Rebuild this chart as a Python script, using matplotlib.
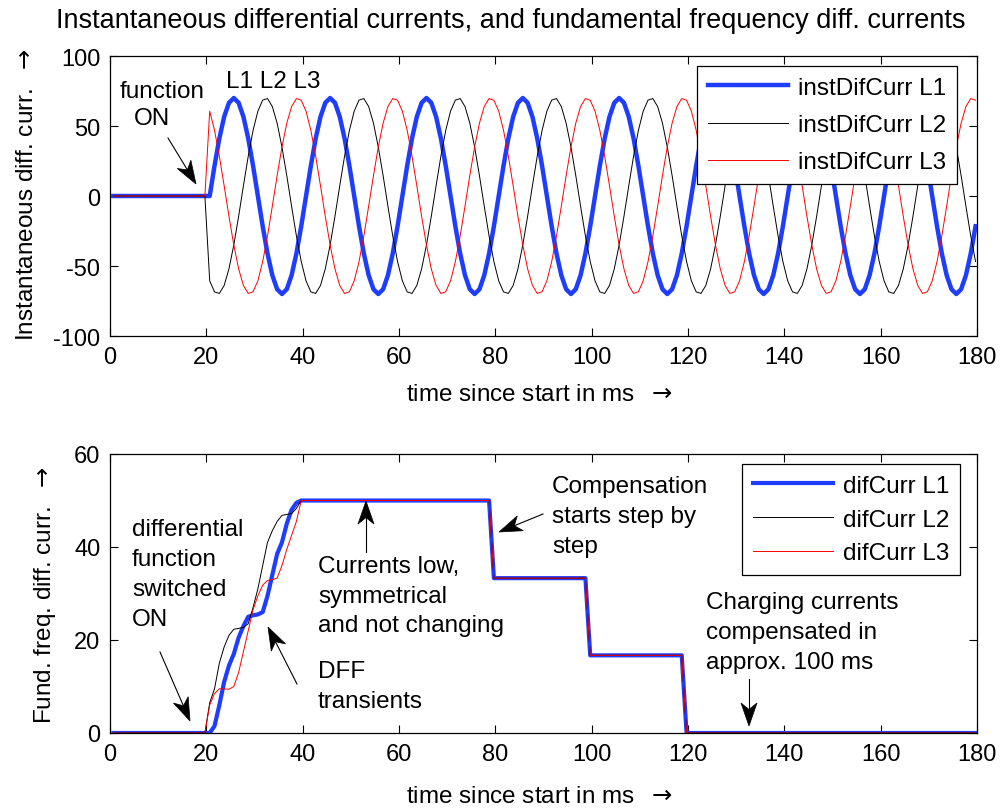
import numpy as np
import matplotlib
matplotlib.use("Agg")
import matplotlib.pyplot as plt
from matplotlib.lines import Line2D
from matplotlib.patches import Polygon

plt.rcParams['font.family'] = ['Liberation Sans', 'DejaVu Sans']
plt.rcParams['axes.unicode_minus'] = False
plt.rcParams['mathtext.fontset'] = 'dejavusans'

W, H = 1003, 812

# ---------------- data ----------------
time_ms = np.arange(180) + 0.7          # sample instants [ms]

inst_L1 = [0] * 20 + [
    0, 21.6, 41.1, 56.6, 66.6, 70, 66.6, 56.6, 41.1, 21.6, 0, -21.6, -41.1, -56.6, -66.6, -70, -66.6, -56.6, -41.1, -21.6,
    0, 21.6, 41.1, 56.6, 66.6, 70, 66.6, 56.6, 41.1, 21.6, 0, -21.6, -41.1, -56.6, -66.6, -70, -66.6, -56.6, -41.1, -21.6,
    0, 21.6, 41.1, 56.6, 66.6, 70, 66.6, 56.6, 41.1, 21.6, 0, -21.6, -41.1, -56.6, -66.6, -70, -66.6, -56.6, -41.1, -21.6,
    0, 21.6, 41.1, 56.6, 66.6, 70, 66.6, 56.6, 41.1, 21.6, 0, -21.6, -41.1, -56.6, -66.6, -70, -66.6, -56.6, -41.1, -21.6,
    0, 21.6, 41.1, 56.6, 66.6, 70, 66.6, 56.6, 41.1, 21.6, 0, -21.6, -41.1, -56.6, -66.6, -70, -66.6, -56.6, -41.1, -21.6,
    0, 21.6, 41.1, 56.6, 66.6, 70, 66.6, 56.6, 41.1, 21.6, 0, -21.6, -41.1, -56.6, -66.6, -70, -66.6, -56.6, -41.1, -21.6,
    0, 21.6, 41.1, 56.6, 66.6, 70, 66.6, 56.6, 41.1, 21.6, 0, -21.6, -41.1, -56.6, -66.6, -70, -66.6, -56.6, -41.1, -21.6,
    0, 21.6, 41.1, 56.6, 66.6, 70, 66.6, 56.6, 41.1, 21.6, 0, -21.6, -41.1, -56.6, -66.6, -70, -66.6, -56.6, -41.1, -21.6,
]
inst_L2 = [0] * 20 + [
    -60.6, -68.5, -69.6, -63.9, -52, -35, -14.6, 7.3, 28.5, 46.8, 60.6, 68.5, 69.6, 63.9, 52, 35, 14.6, -7.3, -28.5, -46.8,
    -60.6, -68.5, -69.6, -63.9, -52, -35, -14.6, 7.3, 28.5, 46.8, 60.6, 68.5, 69.6, 63.9, 52, 35, 14.6, -7.3, -28.5, -46.8,
    -60.6, -68.5, -69.6, -63.9, -52, -35, -14.6, 7.3, 28.5, 46.8, 60.6, 68.5, 69.6, 63.9, 52, 35, 14.6, -7.3, -28.5, -46.8,
    -60.6, -68.5, -69.6, -63.9, -52, -35, -14.6, 7.3, 28.5, 46.8, 60.6, 68.5, 69.6, 63.9, 52, 35, 14.6, -7.3, -28.5, -46.8,
    -60.6, -68.5, -69.6, -63.9, -52, -35, -14.6, 7.3, 28.5, 46.8, 60.6, 68.5, 69.6, 63.9, 52, 35, 14.6, -7.3, -28.5, -46.8,
    -60.6, -68.5, -69.6, -63.9, -52, -35, -14.6, 7.3, 28.5, 46.8, 60.6, 68.5, 69.6, 63.9, 52, 35, 14.6, -7.3, -28.5, -46.8,
    -60.6, -68.5, -69.6, -63.9, -52, -35, -14.6, 7.3, 28.5, 46.8, 60.6, 68.5, 69.6, 63.9, 52, 35, 14.6, -7.3, -28.5, -46.8,
    -60.6, -68.5, -69.6, -63.9, -52, -35, -14.6, 7.3, 28.5, 46.8, 60.6, 68.5, 69.6, 63.9, 52, 35, 14.6, -7.3, -28.5, -46.8,
]
inst_L3 = [0] * 20 + [
    60.6, 46.9, 28.5, 7.3, -14.6, -35, -52, -63.9, -69.6, -68.4, -60.6, -46.9, -28.5, -7.3, 14.6, 35, 52, 63.9, 69.6, 68.4,
    60.6, 46.9, 28.5, 7.3, -14.6, -35, -52, -63.9, -69.6, -68.4, -60.6, -46.9, -28.5, -7.3, 14.6, 35, 52, 63.9, 69.6, 68.4,
    60.6, 46.9, 28.5, 7.3, -14.6, -35, -52, -63.9, -69.6, -68.4, -60.6, -46.9, -28.5, -7.3, 14.6, 35, 52, 63.9, 69.6, 68.4,
    60.6, 46.9, 28.5, 7.3, -14.6, -35, -52, -63.9, -69.6, -68.4, -60.6, -46.9, -28.5, -7.3, 14.6, 35, 52, 63.9, 69.6, 68.4,
    60.6, 46.9, 28.5, 7.3, -14.6, -35, -52, -63.9, -69.6, -68.4, -60.6, -46.9, -28.5, -7.3, 14.6, 35, 52, 63.9, 69.6, 68.4,
    60.6, 46.9, 28.5, 7.3, -14.6, -35, -52, -63.9, -69.6, -68.4, -60.6, -46.9, -28.5, -7.3, 14.6, 35, 52, 63.9, 69.6, 68.4,
    60.6, 46.9, 28.5, 7.3, -14.6, -35, -52, -63.9, -69.6, -68.4, -60.6, -46.9, -28.5, -7.3, 14.6, 35, 52, 63.9, 69.6, 68.4,
    60.6, 46.9, 28.5, 7.3, -14.6, -35, -52, -63.9, -69.6, -68.4, -60.6, -46.9, -28.5, -7.3, 14.6, 35, 52, 63.9, 69.6, 68.4,
]

dif_L1 = ([0] * 21 +
          [1.5, 6, 11, 14.5, 17, 20.5, 23, 25, 25.3, 25.5, 26, 29.5, 34, 38.5, 41, 45, 48, 49.5, 50] +
          [50] * 39 + [33.3] * 20 + [16.7] * 20 + [0] * 61)
dif_L2 = ([0] * 20 +
          [6.5, 9.5, 15, 18.5, 21, 22.3, 22.5, 22.7, 23.5, 27, 31, 36, 41, 43.5, 45.5, 46.8, 47, 47.2, 48.3, 50] +
          [50] * 39 + [33.3] * 20 + [16.7] * 20 + [0] * 61)
dif_L3 = ([0] * 20 +
          [6, 8.5, 9.5, 9.5, 9.4, 10, 13, 17.5, 22, 26.5, 29.5, 31.8, 32.8, 33, 33.3, 36, 39.5, 42.5, 45.5, 50] +
          [50] * 39 + [33.3] * 20 + [16.7] * 20 + [0] * 61)

x_ticks = [0, 20, 40, 60, 80, 100, 120, 140, 160, 180]
top_y_ticks = [-100, -50, 0, 50, 100]
bot_y_ticks = [0, 20, 40, 60]

inst_labels = ['instDifCurr L1', 'instDifCurr L2', 'instDifCurr L3']
dif_labels = ['difCurr L1', 'difCurr L2', 'difCurr L3']

BLUE = '#1f3dff'
FS = 17.5       # annotation / legend text
TFS = 17        # tick labels
ARROW = r'$\rightarrow$'

# ---------------- figure ----------------
fig = plt.figure(figsize=(W / 100, H / 100), dpi=100)


def fx(x):
    return x / W


def fy(y):
    return 1 - y / H


def box(l, t, r, b):
    return [fx(l), fy(b), (r - l) / W, (b - t) / H]


ax1 = fig.add_axes(box(110, 57, 977, 337))
ax2 = fig.add_axes(box(110, 455, 977, 734))

ax1.plot(time_ms, inst_L1, color=BLUE, lw=3.2, label=inst_labels[0])
ax1.plot(time_ms, inst_L2, color='k', lw=0.7, label=inst_labels[1])
ax1.plot(time_ms, inst_L3, color='r', lw=0.7, label=inst_labels[2])

ax2.plot(time_ms, dif_L1, color=BLUE, lw=3.0, label=dif_labels[0])
ax2.plot(time_ms, dif_L2, color='k', lw=0.7, label=dif_labels[1])
ax2.plot(time_ms, dif_L3, color='r', lw=0.7, label=dif_labels[2])

for ax, yt in ((ax1, top_y_ticks), (ax2, bot_y_ticks)):
    ax.set_xlim(0, 180)
    ax.set_ylim(yt[0], yt[-1])
    ax.set_xticks(x_ticks)
    ax.set_yticks(yt)
    ax.tick_params(direction='in', top=True, right=True, length=6, width=0.8,
                   labelsize=TFS, pad=7)
    for s in ax.spines.values():
        s.set_linewidth(0.9)

leg_kw = dict(fontsize=FS, fancybox=False, edgecolor='k', framealpha=1,
              borderaxespad=0, handlelength=3.3, handletextpad=0.4,
              borderpad=0.45, loc='upper left',
              bbox_transform=fig.transFigure)
lg1 = ax1.legend(bbox_to_anchor=(fx(697), fy(67)), labelspacing=0.62, **leg_kw)
lg2 = ax2.legend(bbox_to_anchor=(fx(742), fy(465)), labelspacing=0.48, **leg_kw)
for lg in (lg1, lg2):
    lg.get_frame().set_linewidth(0.9)

# titles / labels
fig.text(fx(511), fy(21), 'Instantaneous differential currents, and fundamental frequency diff. currents',
         ha='center', va='center', fontsize=19.5)
fig.text(fx(540), fy(395), 'time since start in ms  ' + ARROW, ha='center', va='center', fontsize=FS)
fig.text(fx(540), fy(797), 'time since start in ms  ' + ARROW, ha='center', va='center', fontsize=FS)
fig.text(fx(27), fy(195), 'Instantaneous diff. curr.  ' + ARROW, ha='center', va='center',
         rotation=90, fontsize=FS)
fig.text(fx(45), fy(595), 'Fund. freq. diff. curr.  ' + ARROW, ha='center', va='center',
         rotation=90, fontsize=FS)


def lines_text(x, ys, lines, ha='left'):
    for y, s in zip(ys, lines):
        fig.text(fx(x), fy(y), s, ha=ha, va='center', fontsize=FS)


def arrow(x0, y0, x1, y1, L=23, hw=8):
    d = np.array([x1 - x0, y1 - y0], float)
    d /= np.hypot(*d)
    n = np.array([-d[1], d[0]])
    tip = np.array([x1, y1], float)
    base = tip - L * d
    notch = tip - 0.72 * L * d
    fig.add_artist(Line2D([fx(x0), fx(notch[0])], [fy(y0), fy(notch[1])],
                          color='k', lw=0.8, transform=fig.transFigure))
    pts = [tip, base + hw * n, notch, base - hw * n]
    fig.add_artist(Polygon([(fx(p[0]), fy(p[1])) for p in pts], closed=True,
                           facecolor='k', edgecolor='k', lw=0.5, transform=fig.transFigure))


# top annotations
fig.text(fx(162), fy(92), 'function', ha='center', va='center', fontsize=FS)
fig.text(fx(152), fy(119), 'ON', ha='center', va='center', fontsize=FS)
fig.text(fx(273), fy(82), 'L1 L2 L3', ha='center', va='center', fontsize=FS)
arrow(168, 139, 196, 185)

# bottom annotations
lines_text(132, [530, 560, 590, 620], ['differential', 'function', 'switched', 'ON'])
arrow(160, 653, 190, 722)
lines_text(318, [567, 597, 626], ['Currents low,', 'symmetrical', 'and not changing'])
arrow(366, 553, 366, 502)
lines_text(318, [672, 702], ['DFF', 'transients'])
arrow(297, 685, 268, 628)
lines_text(552, [487, 517, 547], ['Compensation', 'starts step by', 'step'])
arrow(543, 515, 499, 533)
lines_text(706, [603, 633, 663], ['Charging currents', 'compensated in', 'approx. 100 ms'])
arrow(749, 680, 749, 727)

fig.savefig('out.png', dpi=100)
